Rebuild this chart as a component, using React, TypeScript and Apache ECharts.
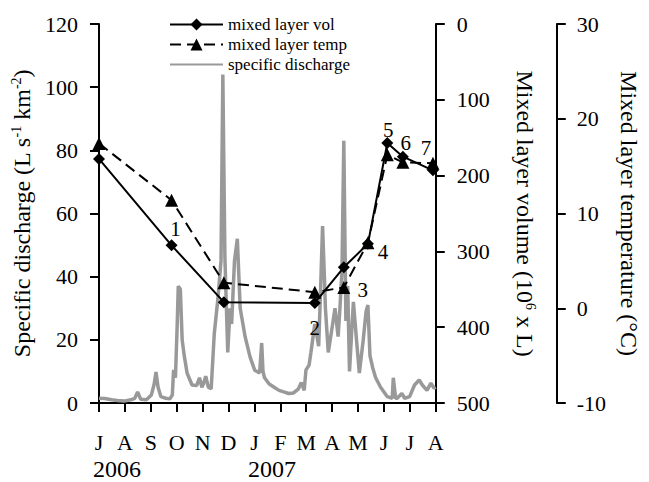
import React, { useEffect, useRef } from 'react';
import * as echarts from 'echarts';

// ---- data ----
const monthLabels = ['J', 'A', 'S', 'O', 'N', 'D', 'J', 'F', 'M', 'A', 'M', 'J', 'J', 'A'];
const yearLabels = ['2006', '2007'];

// months since 1 Jul 2006
const sampleMonth = [0, 2.8, 4.82, 8.33, 9.45, 10.38, 11.13, 11.73, 12.89];
const mixedLayerVol = [178, 292, 367, 368, 321, 290, 157, 175, 193];
const mixedLayerTemp = [17.4, 11.4, 2.7, 1.7, 2.2, 6.9, 16.2, 15.4, 15.3];
const sampleLabels = ['', '1', '', '2', '3', '4', '5', '6', '7'];

const dischargeMonth = [
  0.0, 0.22, 0.49, 0.71, 0.97, 1.23, 1.38, 1.49, 1.61, 1.83, 2.02, 2.13, 2.2, 2.28, 2.39, 2.58,
  2.73, 2.83, 2.88, 2.95, 3.02, 3.06, 3.14, 3.21, 3.29, 3.4, 3.59, 3.77, 3.88, 3.97, 4.03, 4.12,
  4.22, 4.33, 4.45, 4.59, 4.71, 4.78, 4.86, 4.97, 5.06, 5.12, 5.23, 5.34, 5.45, 5.64, 5.83, 6.01,
  6.2, 6.28, 6.33, 6.39, 6.57, 6.76, 6.95, 7.13, 7.32, 7.51, 7.7, 7.81, 7.92, 7.99, 8.11, 8.18,
  8.33, 8.48, 8.55, 8.63, 8.7, 8.74, 8.85, 9.0, 9.11, 9.23, 9.3, 9.38, 9.45, 9.53, 9.6, 9.67,
  9.75, 9.82, 9.94, 10.05, 10.2, 10.31, 10.38, 10.46, 10.57, 10.68, 10.87, 11.13, 11.32, 11.36,
  11.45, 11.51, 11.69, 11.8, 11.99, 12.18, 12.36, 12.48, 12.66, 12.81, 12.93, 13.0,
];
const dischargeValue = [
  1.5, 1.4, 1.0, 0.8, 0.6, 1.0, 1.5, 3.5, 1.2, 1.0, 2.5, 6.0, 9.8, 5.0, 2.0, 1.5,
  1.3, 2.5, 10.5, 8, 25, 37, 36, 20, 15, 9.5, 5.7, 5.5, 8, 5, 6, 8.5,
  5, 4.5, 22, 33, 45, 104, 46, 16, 30, 25, 45, 52, 30, 21, 14.6, 10.4,
  9.5, 19, 10, 8, 6, 5, 4, 3.5, 3, 3.2, 4.5, 6.5, 4, 10.5, 12, 16,
  25, 18, 35, 56, 40, 30, 16, 24, 30, 21, 30, 42, 83, 26, 37, 10,
  22, 32, 20, 9.5, 20, 29, 31, 15, 11, 8, 5, 2, 1.5, 8,
  1.5, 1.5, 3, 1.5, 2, 5.7, 7.3, 5.7, 4, 6.3, 4.7, 5,
];

// ---- styles ----
const FONT = "'Liberation Serif', 'Times New Roman', serif";
const labelOffsets: number[][] = [
  [0, 0], [4, -16], [0, 0], [0, 25], [19, 23], [15, 8], [1, -13], [3, -14], [-7, -22],
];

const axisLineStyle = { show: true, lineStyle: { color: '#000', width: 2 } };
const axisTickStyle = { show: true, length: 9, lineStyle: { color: '#000', width: 2 } };
const supRich = {
  n: { fontSize: 24, fontFamily: FONT, color: '#000', lineHeight: 26 },
  s: { fontSize: 14, fontFamily: FONT, color: '#000', lineHeight: 15, verticalAlign: 'top' },
};

export default function App() {
  const ref = useRef<HTMLDivElement>(null);
  useEffect(() => {
    if (!ref.current) return;
    const chart = echarts.init(ref.current, undefined, { renderer: 'svg' });
    const volData = sampleMonth.map((m, i) => ({
      value: [m, mixedLayerVol[i]],
      label: sampleLabels[i]
        ? {
            show: true,
            position: 'inside',
            offset: labelOffsets[i],
            formatter: sampleLabels[i],
            fontSize: 21,
            fontFamily: FONT,
            color: '#000',
          }
        : { show: false },
    }));
    const option: any = {
      animation: false,
      textStyle: { fontFamily: FONT, color: '#000' },
      grid: { left: 99, right: 202, top: 24, bottom: 79, containLabel: false },
      legend: {
        orient: 'vertical',
        left: 164,
        top: 11,
        itemWidth: 53,
        itemHeight: 15,
        itemGap: 3,
        textStyle: { fontSize: 17, fontFamily: FONT, color: '#000' },
        data: [
          'mixed layer vol',
          'mixed layer temp',
          { name: 'specific discharge', itemStyle: { opacity: 0 } },
        ],
      },
      xAxis: {
        type: 'value',
        min: 0,
        max: 13,
        interval: 1,
        axisLine: axisLineStyle,
        axisTick: axisTickStyle,
        splitLine: { show: false },
        axisLabel: {
          margin: 28,
          fontSize: 22,
          fontFamily: FONT,
          color: '#000',
          formatter: (v: number) => monthLabels[Math.round(v)] ?? '',
        },
      },
      yAxis: [
        {
          type: 'value',
          position: 'left',
          min: 0,
          max: 120,
          interval: 20,
          axisLine: axisLineStyle,
          axisTick: axisTickStyle,
          splitLine: { show: false },
          axisLabel: { margin: 21, fontSize: 22, fontFamily: FONT, color: '#000' },
          name: '{n|Specific discharge (L s}{s|-1}{n| km}{s|-2}{n|)}',
          nameLocation: 'middle',
          nameRotate: 90,
          nameGap: 60,
          nameTextStyle: { rich: supRich },
        },
        {
          type: 'value',
          position: 'right',
          inverse: true,
          min: 0,
          max: 500,
          interval: 100,
          axisLine: axisLineStyle,
          axisTick: axisTickStyle,
          splitLine: { show: false },
          axisLabel: { margin: 21, fontSize: 22, fontFamily: FONT, color: '#000' },
          name: '{n|Mixed layer volume (10}{s|6}{n| x L)}',
          nameLocation: 'middle',
          nameRotate: -90,
          nameGap: 76,
          nameTextStyle: { rich: supRich },
        },
        {
          type: 'value',
          position: 'right',
          offset: 121,
          min: -10,
          max: 30,
          interval: 10,
          axisLine: axisLineStyle,
          axisTick: axisTickStyle,
          splitLine: { show: false },
          axisLabel: { margin: 20, fontSize: 22, fontFamily: FONT, color: '#000' },
          name: '{n|Mixed layer temperature (°C)}',
          nameLocation: 'middle',
          nameRotate: -90,
          nameGap: 57,
          nameTextStyle: { rich: supRich },
        },
      ],
      graphic: [
        { type: 'text', left: 93, top: 457, style: { text: yearLabels[0], font: `24px ${FONT}`, fill: '#000' } },
        { type: 'text', left: 248, top: 457, style: { text: yearLabels[1], font: `24px ${FONT}`, fill: '#000' } },
      ],
      series: [
        {
          name: 'specific discharge',
          type: 'line',
          yAxisIndex: 0,
          showSymbol: false,
          symbol: 'none',
          color: '#999999',
          lineStyle: { color: '#999999', width: 3.5 },
          data: dischargeMonth.map((m, i) => [m, dischargeValue[i]]),
          z: 1,
        },
        {
          name: 'mixed layer temp',
          type: 'line',
          yAxisIndex: 2,
          symbol: 'triangle',
          symbolSize: 13,
          color: '#000',
          itemStyle: { color: '#000' },
          lineStyle: { color: '#000', width: 2, type: [11, 6] },
          data: sampleMonth.map((m, i) => [m, mixedLayerTemp[i]]),
          z: 3,
        },
        {
          name: 'mixed layer vol',
          type: 'line',
          yAxisIndex: 1,
          symbol: 'diamond',
          symbolSize: 12,
          color: '#000',
          itemStyle: { color: '#000' },
          lineStyle: { color: '#000', width: 2 },
          data: volData,
          z: 4,
        },
      ],
    };
    chart.setOption(option);
    return () => chart.dispose();
  }, []);
  return <div ref={ref} style={{ position: 'fixed', left: 0, top: 0, width: 649, height: 482, background: '#fff' }} />;
}
